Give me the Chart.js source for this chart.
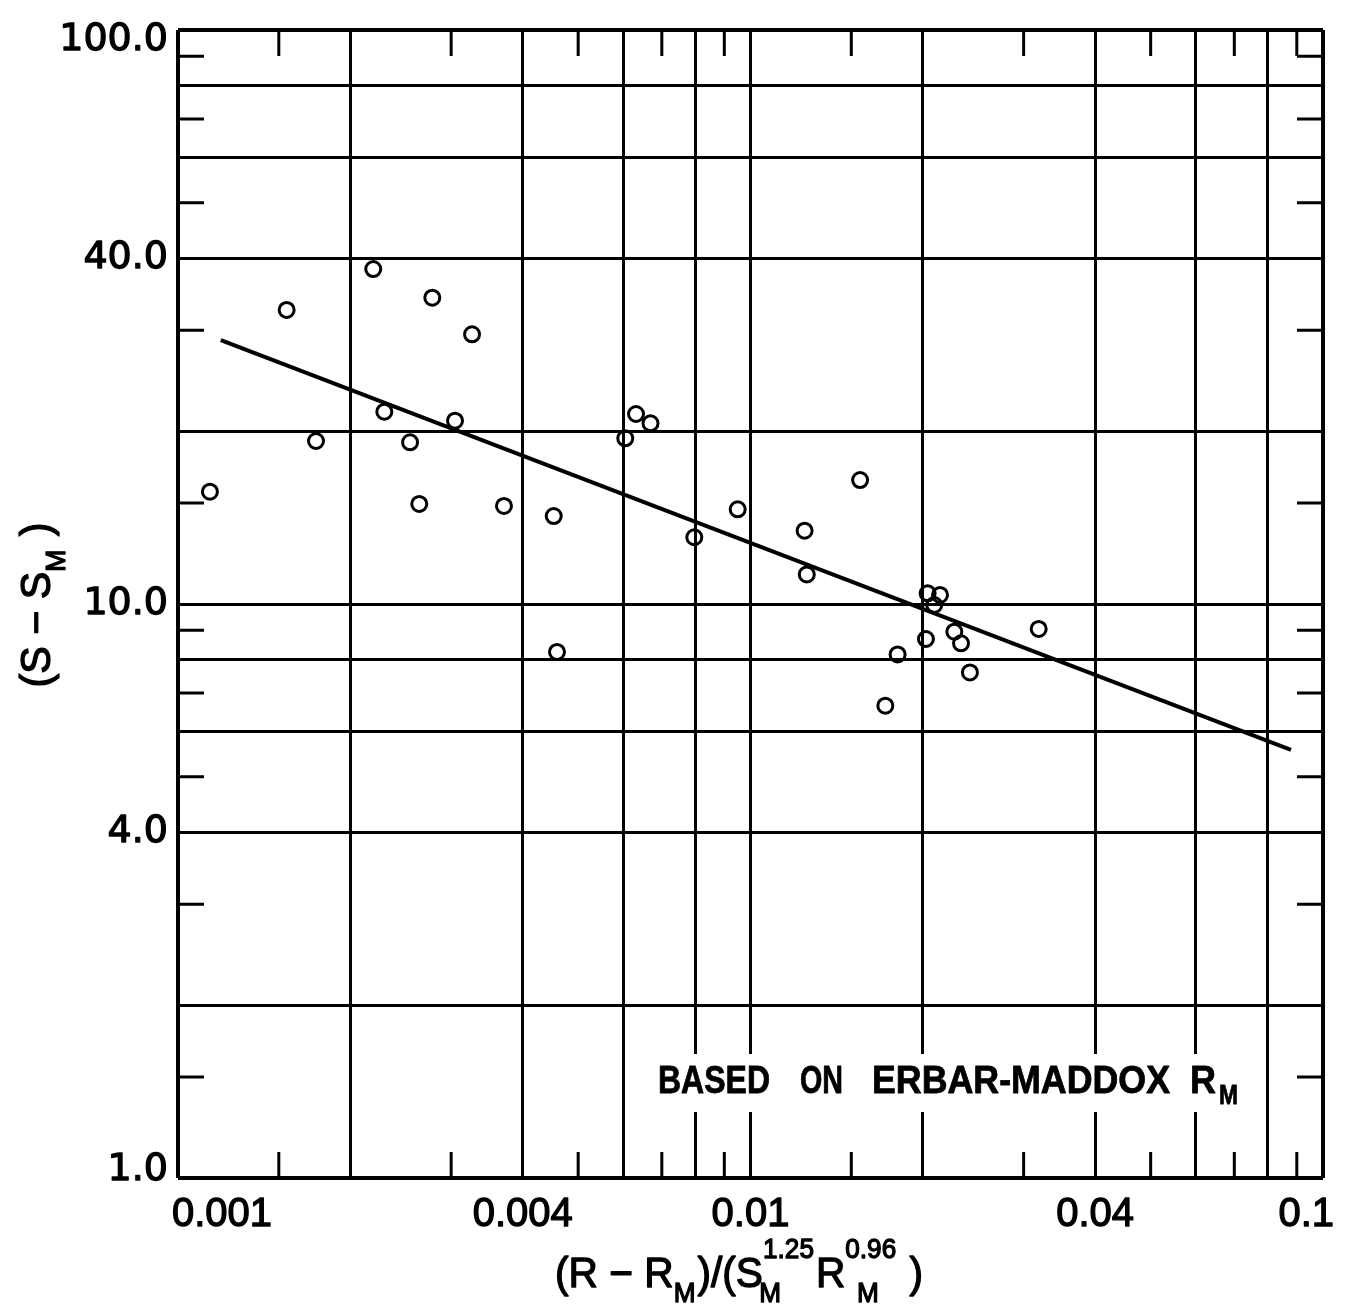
<!DOCTYPE html>
<html>
<head>
<meta charset="utf-8">
<script src="https://cdn.jsdelivr.net/npm/chart.js@4"></script>
<style>
  html, body { margin: 0; padding: 0; background: #fff; }
  #wrap { width: 1347px; height: 1311px; }
</style>
</head>
<body>
<div id="wrap"><canvas id="chart" width="1347" height="1311"></canvas></div>
<script>
// --- values ---
const ratioX = [0.001137, 0.001548, 0.001742, 0.002193, 0.002293, 0.002543, 0.002639, 0.002781,
  0.003047, 0.003263, 0.003710, 0.004532, 0.004592, 0.006043, 0.006310, 0.006689,
  0.007977, 0.009498, 0.01243, 0.01254, 0.01554, 0.01720, 0.01807, 0.02025,
  0.02039, 0.02094, 0.02143, 0.02270, 0.02332, 0.02417, 0.03187];
const deltaS = [15.69, 32.53, 19.23, 38.33, 21.63, 19.13, 14.94, 34.17,
  20.86, 29.50, 14.82, 14.23, 8.25, 19.44, 21.43, 20.64,
  13.07, 14.62, 13.42, 11.26, 16.44, 6.65, 8.17, 8.69,
  10.44, 9.96, 10.37, 8.95, 8.54, 7.60, 9.05];

// fitted line, two ends
const fitX = [0.001188, 0.08792];
const fitY = [28.83, 5.57];

// axes
const xGrid = [0.001, 0.002, 0.004, 0.006, 0.008, 0.01, 0.02, 0.04, 0.06, 0.08, 0.1];
const xMinor = [0.0015, 0.003, 0.005, 0.007, 0.009, 0.015, 0.03, 0.05, 0.07, 0.09];
const xTickVals = [0.001, 0.004, 0.01, 0.04, 0.1];
const xTickText = ['0.001', '0.004', '0.01', '0.04', '0.1'];
const yGrid = [1, 2, 4, 6, 8, 10, 20, 40, 60, 80, 100];
const yMinor = [1.5, 3, 5, 7, 9, 15, 30, 50, 70, 90];
const yTickVals = [1, 4, 10, 40, 100];
const yTickText = ['1.0', '4.0', '10.0', '40.0', '100.0'];

const FONT = '"Liberation Sans", Arial, sans-serif';
const FONT_Y = '"DejaVu Sans", sans-serif';

// fill plus a thin stroke, the lettering in the figure is heavy
function ink(ctx, txt, x, y, measureOnly) {
  if (!measureOnly) {
    ctx.fillText(txt, x, y);
    ctx.strokeText(txt, x, y);
  }
  return ctx.measureText(txt).width;
}

// text with sub/superscripts; returns width
function richText(ctx, parts, x, y, size, small, measureOnly) {
  let cx = x;
  parts.forEach(p => {
    if (p.t) {
      ctx.font = size + 'px ' + FONT;
      cx += ink(ctx, p.t, cx, y, measureOnly);
    } else {
      ctx.font = small + 'px ' + FONT;
      let w = 0;
      if (p.sup) w = Math.max(w, ink(ctx, p.sup, cx, y - size * 0.68, measureOnly));
      if (p.sub) w = Math.max(w, ink(ctx, p.sub, cx + (p.dx || 0), y + size * 0.36, measureOnly) + (p.dx || 0));
      cx += w + 2;
    }
  });
  return cx - x;
}

// squeeze/stretch a word to span x0..x1
function fitWord(ctx, txt, x0, x1, y, font) {
  ctx.font = font;
  const w = ctx.measureText(txt).width;
  ctx.save();
  ctx.translate(x0, y);
  ctx.scale((x1 - x0) / w, 1);
  ink(ctx, txt, 0, 0, false);
  ctx.restore();
}

const framePlugin = {
  id: 'frame',
  afterDraw(chart) {
    const ctx = chart.ctx;
    const a = chart.chartArea;
    const xs = chart.scales.x, ys = chart.scales.y;
    const tick = 26;
    ctx.save();
    ctx.strokeStyle = '#000';
    ctx.fillStyle = '#000';
    ctx.lineWidth = 3;
    ctx.beginPath();
    xMinor.forEach(v => {
      const px = xs.getPixelForValue(v);
      ctx.moveTo(px, a.top); ctx.lineTo(px, a.top + tick);
      ctx.moveTo(px, a.bottom); ctx.lineTo(px, a.bottom - tick);
    });
    yMinor.forEach(v => {
      const py = ys.getPixelForValue(v);
      ctx.moveTo(a.left, py); ctx.lineTo(a.left + tick, py);
      ctx.moveTo(a.right, py); ctx.lineTo(a.right - tick, py);
    });
    ctx.stroke();

    ctx.lineWidth = 1.3;
    ctx.lineJoin = 'round';

    // tick labels
    ctx.font = '40px ' + FONT;
    ctx.textBaseline = 'alphabetic';
    ctx.textAlign = 'left';
    xTickVals.forEach((v, i) => {
      const w = ctx.measureText(xTickText[i]).width;
      let left = xs.getPixelForValue(v) - w / 2;
      left = Math.max(left, a.left - 6);
      left = Math.min(left, a.right + 11 - w);
      ink(ctx, xTickText[i], left, a.bottom + 48);
    });
    ctx.font = '38px ' + FONT_Y;
    ctx.textAlign = 'right';
    ctx.textBaseline = 'middle';
    yTickVals.forEach((v, i) => {
      let py = ys.getPixelForValue(v);
      py = Math.min(Math.max(py, a.top + 10), a.bottom - 8);
      ink(ctx, yTickText[i], a.left - 10, py);
    });

    // x axis title
    ctx.textAlign = 'left';
    ctx.textBaseline = 'alphabetic';
    const xt = [{t: '(R \u2212 R'}, {sub: 'M'}, {t: ')/(S'}, {sup: '1.25', sub: 'M', dx: -4}, {t: 'R'}, {sup: '0.96', sub: 'M', dx: 12}, {t: ' )'}];
    const xw = richText(ctx, xt, 0, 0, 42, 27, true);
    ctx.save();
    ctx.translate(555, 1287);
    ctx.scale(368 / xw, 1);
    richText(ctx, xt, 0, 0, 42, 27, false);
    ctx.restore();

    // y axis title
    ctx.save();
    ctx.translate(50, 605);
    ctx.rotate(-Math.PI / 2);
    const yt = [{t: '(S \u2212 S'}, {sub: 'M'}, {t: ' )'}];
    const yw = richText(ctx, yt, 0, 0, 42, 27, true);
    ctx.scale(165 / yw, 1);
    richText(ctx, yt, -yw / 2, 0, 42, 27, false);
    ctx.restore();

    // note, with the grid blanked behind it
    ctx.fillStyle = '#fff';
    ctx.fillRect(648, 1054, 596, 58);
    ctx.fillStyle = '#000';
    ctx.lineWidth = 0.8;
    const noteFont = 'bold 39px ' + FONT;
    fitWord(ctx, 'BASED', 658, 770, 1093, noteFont);
    fitWord(ctx, 'ON', 800, 843, 1093, noteFont);
    fitWord(ctx, 'ERBAR-MADDOX', 872, 1170, 1093, noteFont);
    fitWord(ctx, 'R', 1190, 1216, 1093, noteFont);
    fitWord(ctx, 'M', 1219, 1238, 1104, 'bold 28px ' + FONT);
    ctx.restore();
  }
};

const points = ratioX.map((x, i) => ({x: x, y: deltaS[i]}));
const fitLine = fitX.map((x, i) => ({x: x, y: fitY[i]}));

const edgeWidth = c => (c.index === 0 || c.index === c.scale.ticks.length - 1) ? 4 : 3;

new Chart(document.getElementById('chart').getContext('2d'), {
  type: 'scatter',
  data: {
    datasets: [
      {
        data: points,
        pointRadius: 7.5,
        pointBorderWidth: 3,
        pointBorderColor: '#000',
        pointBackgroundColor: 'rgba(255,255,255,0)',
        showLine: false
      },
      {
        data: fitLine,
        showLine: true,
        borderColor: '#000',
        borderWidth: 4,
        pointRadius: 0
      }
    ]
  },
  options: {
    responsive: false,
    animation: false,
    devicePixelRatio: 1,
    layout: { padding: { left: 178, right: 24, top: 30, bottom: 133 } },
    plugins: { legend: { display: false }, tooltip: { enabled: false } },
    scales: {
      x: {
        type: 'logarithmic',
        min: 0.001,
        max: 0.1,
        afterBuildTicks: s => { s.ticks = xGrid.map(v => ({value: v})); },
        afterFit: s => { s.height = 0; },
        ticks: { display: false },
        grid: { color: '#000', lineWidth: edgeWidth, drawTicks: false },
        border: { display: false }
      },
      y: {
        type: 'logarithmic',
        min: 1,
        max: 100,
        afterBuildTicks: s => { s.ticks = yGrid.map(v => ({value: v})); },
        afterFit: s => { s.width = 0; },
        ticks: { display: false },
        grid: { color: '#000', lineWidth: edgeWidth, drawTicks: false },
        border: { display: false }
      }
    }
  },
  plugins: [framePlugin]
});
</script>
</body>
</html>
